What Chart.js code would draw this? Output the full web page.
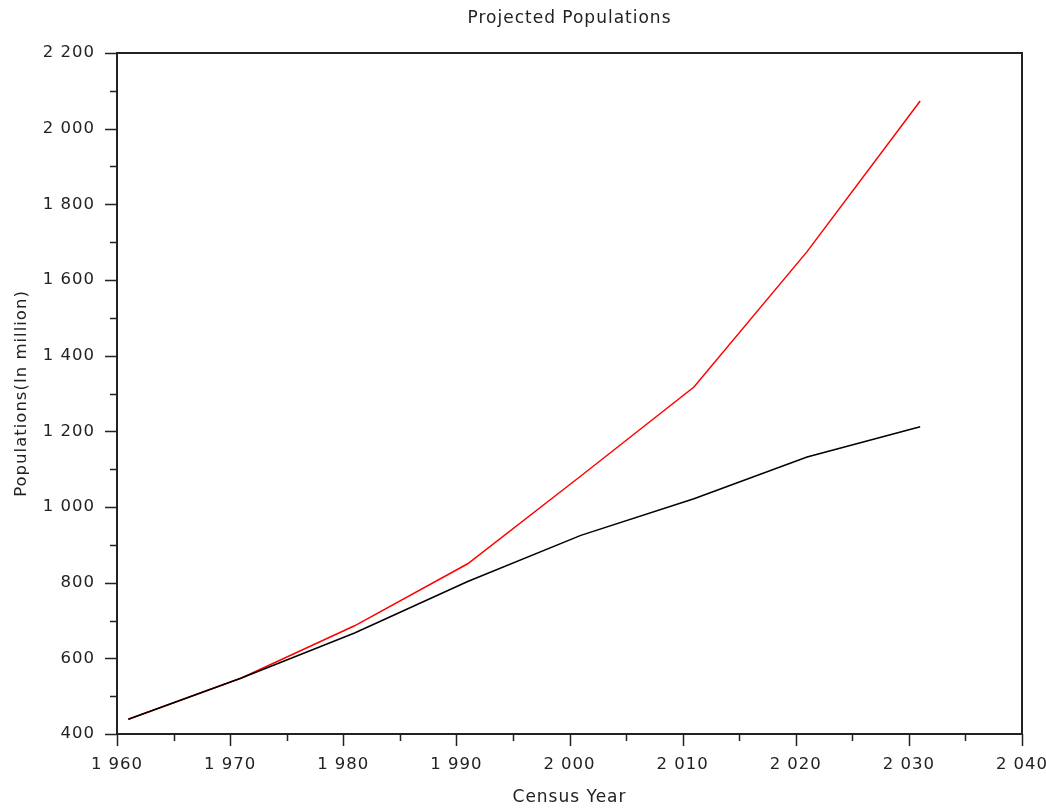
<!DOCTYPE html>
<html>
<head>
<meta charset="utf-8">
<title>Projected Populations</title>
<script src="https://cdn.jsdelivr.net/npm/chart.js@4/dist/chart.umd.min.js"></script>
<style>
  html, body { margin: 0; padding: 0; background: #fff; }
  canvas { display: block; }
</style>
</head>
<body>
<canvas id="myChart" width="1046" height="811"></canvas>
<script>
// census years and projected populations (in million)
var years = [1961, 1971, 1981, 1991, 2001, 2011, 2021, 2031];
var linearPop = [439, 548, 667, 803, 925, 1022, 1132, 1212];
var expPop = [439, 548, 686, 850, 1082, 1317, 1675, 2073];

var xTicks = [1960, 1970, 1980, 1990, 2000, 2010, 2020, 2030, 2040];
var yTicks = [400, 600, 800, 1000, 1200, 1400, 1600, 1800, 2000, 2200];

var fontFamily = "'DejaVu Sans', sans-serif";
var axisColor = "#222";

function fmt(v) {
    // espacio como separador de miles, como en el original
    return String(v).replace(/\B(?=(\d{3})+(?!\d))/g, " ");
}

function toPoints(xs, ys) {
    return xs.map(function (x, i) { return { x: x, y: ys[i] }; });
}

// texto un poco espaciado, como el render de Scilab
var spacingPlugin = {
    id: "spacing",
    beforeInit: function (chart) { chart.ctx.letterSpacing = "1px"; },
    beforeLayout: function (chart) { chart.ctx.letterSpacing = "1px"; },
    beforeDraw: function (chart) { chart.ctx.letterSpacing = "1px"; }
};

// marco y marcas (mayores y menores) dibujadas con las escalas del grafico
var framePlugin = {
    id: "frame",
    afterDraw: function (chart) {
        var ctx = chart.ctx;
        var a = chart.chartArea;
        var xs = chart.scales.x;
        var ys = chart.scales.y;
        ctx.save();
        ctx.strokeStyle = axisColor;
        ctx.lineWidth = 2;
        ctx.strokeRect(a.left, a.top, a.right - a.left, a.bottom - a.top);
        ctx.lineWidth = 1.5;
        ctx.beginPath();
        for (var v = ys.min; v <= ys.max; v += 100) {
            var py = Math.round(ys.getPixelForValue(v)) + 0.5;
            var len = (v % 200 === 0) ? 12 : 7;
            ctx.moveTo(a.left - len, py);
            ctx.lineTo(a.left, py);
        }
        for (var x = xs.min; x <= xs.max; x += 5) {
            var px = Math.round(xs.getPixelForValue(x)) + 0.5;
            var lenX = (x % 10 === 0) ? 12 : 7;
            ctx.moveTo(px, a.bottom);
            ctx.lineTo(px, a.bottom + lenX);
        }
        ctx.stroke();
        ctx.restore();
    }
};

var ctx = document.getElementById("myChart").getContext("2d");
var chart = new Chart(ctx, {
    type: "line",
    data: {
        datasets: [
            {
                label: "Linear",
                data: toPoints(years, linearPop),
                borderColor: "#000000",
                borderWidth: 1.5,
                pointRadius: 0,
                tension: 0,
                fill: false,
            },
            {
                label: "Exponential",
                data: toPoints(years, expPop),
                borderColor: "#ff0000",
                borderWidth: 1.5,
                pointRadius: 0,
                tension: 0,
                fill: false,
            },
        ],
    },
    options: {
        responsive: false,
        animation: false,
        layout: { padding: { left: 0, right: 24, top: 0, bottom: 0 } },
        plugins: {
            legend: { display: false },
            tooltip: { enabled: false },
            title: {
                display: true,
                text: "Projected Populations",
                fullSize: false,
                color: axisColor,
                font: { family: fontFamily, size: 17, weight: "normal" },
                padding: { top: 8, bottom: 24.6 },
            },
        },
        scales: {
            x: {
                type: "linear",
                min: 1960,
                max: 2040,
                afterFit: function (s) {
                    s.height = 77;
                    s.paddingRight = 0;
                    s.paddingLeft = 0;
                },
                afterBuildTicks: function (s) {
                    s.ticks = xTicks.map(function (v) { return { value: v }; });
                },
                grid: { drawOnChartArea: false, drawTicks: false },
                border: { display: true, color: axisColor, width: 2 },
                ticks: {
                    color: axisColor,
                    padding: 21,
                    maxRotation: 0,
                    autoSkip: false,
                    font: { family: fontFamily, size: 16.5 },
                    callback: function (v) { return fmt(v); },
                },
                title: {
                    display: true,
                    text: "Census Year",
                    color: axisColor,
                    font: { family: fontFamily, size: 17 },
                    padding: { top: 0, bottom: 3 },
                },
            },
            y: {
                type: "linear",
                min: 400,
                max: 2200,
                afterFit: function (s) { s.width = 117; },
                afterBuildTicks: function (s) {
                    s.ticks = yTicks.map(function (v) { return { value: v }; });
                },
                grid: { drawOnChartArea: false, drawTicks: false },
                border: { display: true, color: axisColor, width: 2 },
                ticks: {
                    color: axisColor,
                    padding: 22,
                    autoSkip: false,
                    font: { family: fontFamily, size: 16.5 },
                    callback: function (v) { return fmt(v); },
                },
                title: {
                    display: true,
                    text: "Populations(In million)",
                    color: axisColor,
                    font: { family: fontFamily, size: 16.5 },
                    padding: { top: 12, bottom: 0 },
                },
            },
        },
    },
    plugins: [spacingPlugin, framePlugin],
});
</script>
</body>
</html>
